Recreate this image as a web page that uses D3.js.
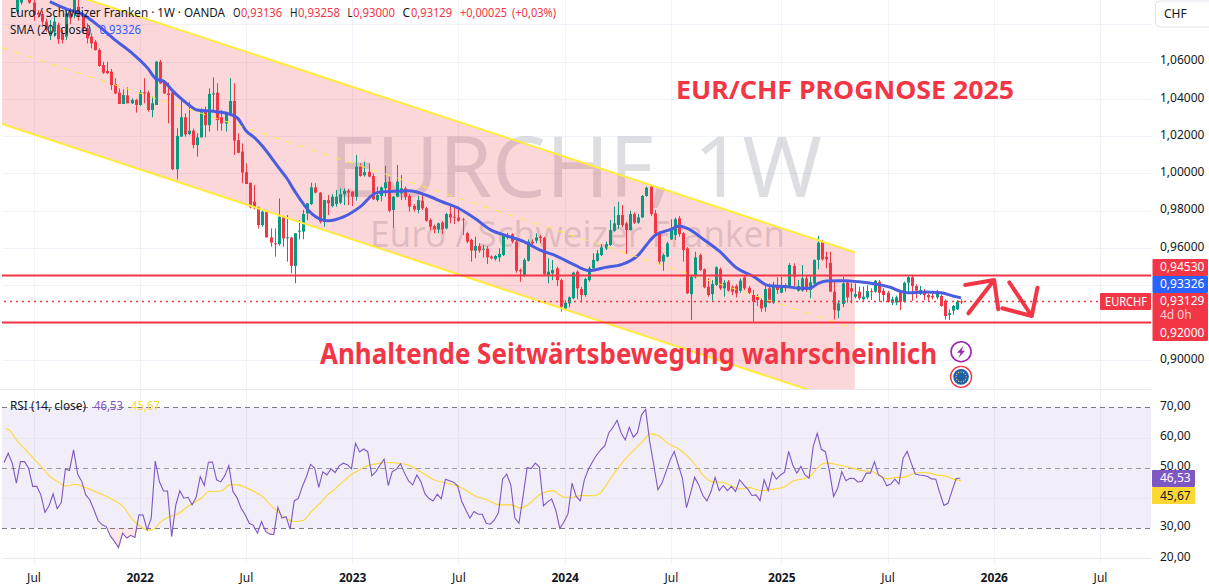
<!DOCTYPE html>
<html><head><meta charset="utf-8">
<script src="https://cdn.jsdelivr.net/npm/d3@7/dist/d3.min.js"></script>
<style>
html,body{margin:0;padding:0;background:#fff;overflow:hidden}
svg{display:block}
text{font-family:"Noto Sans","Open Sans",sans-serif}
</style></head><body><div id="chart"></div>
<script>
// ---------- data ----------
const firstWeek = Date.UTC(2021, 6, 5);
const candleStartWeek = -4;
const opens = [
1.0867,1.0916,1.0970,1.0945,1.0916,1.0862,1.0855,1.0814,1.0737,1.0760,
1.0796,1.0751,1.0733,1.0858,1.0867,1.0894,1.0840,1.0778,1.0733,1.0706,
1.0662,1.0581,1.0549,1.0545,1.0479,1.0433,1.0372,1.0418,1.0376,1.0394,
1.0367,1.0435,1.0433,1.0340,1.0367,1.0599,1.0492,1.0429,1.0433,1.0022,
1.0197,1.0301,1.0211,1.0229,1.0152,1.0193,1.0340,1.0259,1.0426,1.0433,
1.0301,1.0268,1.0322,1.0388,1.0179,1.0117,1.0007,.9950,.9849,.9818,
.9723,.9800,.9657,.9625,.9621,.9768,.9652,.9657,.9504,.9688,
.9688,.9786,.9836,.9925,.9897,.9741,.9857,.9825,.9836,.9843,
.9888,.9907,.9902,.9875,1.0036,.9990,1.0009,.9986,.9857,.9879,
.9920,.9956,.9804,.9875,.9893,.9920,.9879,.9825,.9804,.9854,
.9813,.9750,.9718,.9700,.9736,.9705,.9782,.9768,.9764,.9754,
.9679,.9643,.9586,.9611,.9593,.9596,.9554,.9541,.9550,.9562,
.9657,.9673,.9634,.9482,.9450,.9532,.9634,.9639,.9661,.9655,
.9455,.9464,.9491,.9428,.9276,.9303,.9330,.9473,.9380,.9348,
.9428,.9491,.9532,.9562,.9598,.9616,.9693,.9723,.9777,.9732,
.9696,.9782,.9736,.9764,.9879,.9929,.9786,.9682,.9527,.9554,
.9646,.9670,.9759,.9679,.9598,.9353,.9443,.9562,.9486,.9393,
.9353,.9402,.9486,.9384,.9419,.9393,.9396,.9371,.9443,.9387,
.9348,.9339,.9321,.9282,.9384,.9307,.9401,.9360,.9393,.9389,
.9503,.9371,.9371,.9437,.9375,.9410,.9536,.9634,.9553,.9521,
.9366,.9264,.9300,.9414,.9384,.9339,.9366,.9325,.9335,.9369,
.9366,.9419,.9371,.9360,.9307,.9307,.9362,.9312,.9414,.9443,
.9396,.9353,.9366,.9348,.9343,.9335,.9343,.9317,.9241,.9264,.9271,.93136];
const highs = [
1.0960,1.0950,1.0980,1.0955,1.0930,1.0875,1.0870,1.0830,1.0823,1.0840,
1.0808,1.0770,1.0876,1.0885,1.0945,1.0935,1.0860,1.0805,1.0751,1.0715,
1.0671,1.0599,1.0599,1.0560,1.0510,1.0456,1.0451,1.0462,1.0403,1.0400,
1.0447,1.0510,1.0444,1.0412,1.0603,1.0608,1.0501,1.0487,1.0440,1.0242,
1.0394,1.0322,1.0385,1.0240,1.0215,1.0349,1.0358,1.0456,1.0515,1.0483,
1.0340,1.0331,1.0510,1.0483,1.0215,1.0161,1.0054,.9950,.9938,.9822,
.9804,.9800,.9705,.9705,.9866,.9772,.9777,.9660,.9680,.9750,
.9804,.9840,.9950,.9947,.9900,.9857,.9884,.9888,.9911,.9920,
.9920,.9918,.9905,1.0099,1.0054,1.0063,1.0054,1.0000,.9929,.9929,
1.0040,.9983,.9878,1.0045,.9991,.9930,.9890,.9835,.9879,.9884,
.9820,.9759,.9725,.9736,.9745,.9789,.9836,.9822,.9822,.9762,
.9687,.9650,.9661,.9625,.9616,.9610,.9560,.9562,.9598,.9679,
.9682,.9679,.9640,.9490,.9545,.9646,.9646,.9679,.9670,.9660,
.9545,.9536,.9500,.9435,.9320,.9340,.9473,.9480,.9390,.9440,
.9500,.9571,.9589,.9621,.9634,.9750,.9822,.9848,.9830,.9740,
.9800,.9790,.9782,.9884,.9929,.9938,.9804,.9690,.9571,.9634,
.9754,.9764,.9771,.9685,.9605,.9450,.9580,.9570,.9490,.9437,
.9428,.9503,.9495,.9428,.9428,.9400,.9405,.9437,.9450,.9395,
.9375,.9353,.9330,.9401,.9410,.9419,.9443,.9446,.9410,.9518,
.9518,.9428,.9509,.9455,.9455,.9539,.9664,.9643,.9580,.9580,
.9420,.9320,.9446,.9430,.9410,.9410,.9393,.9393,.9401,.9384,
.9428,.9428,.9385,.9370,.9339,.9345,.9375,.9419,.9450,.9455,
.9405,.9396,.9380,.9355,.9360,.9375,.9350,.9325,.9271,.9294,.9321,.93258];
const lows = [
1.0855,1.0905,1.0935,1.0910,1.0819,1.0835,1.0796,1.0760,1.0715,1.0733,
1.0694,1.0697,1.0715,1.0800,1.0832,1.0819,1.0751,1.0697,1.0671,1.0658,
1.0572,1.0533,1.0533,1.0447,1.0426,1.0372,1.0372,1.0376,1.0372,1.0326,
1.0361,1.0376,1.0331,1.0301,1.0367,1.0479,1.0426,1.0268,1.0018,.9968,
1.0197,1.0197,1.0206,1.0134,1.0090,1.0193,1.0193,1.0224,1.0340,1.0229,
1.0229,1.0224,1.0313,1.0099,1.0108,.9947,.9943,.9813,.9807,.9705,
.9714,.9657,.9607,.9554,.9613,.9607,.9527,.9464,.9411,.9647,
.9647,.9750,.9830,.9893,.9732,.9714,.9777,.9818,.9822,.9836,
.9830,.9830,.9825,.9854,.9983,.9983,.9980,.9857,.9849,.9849,
.9875,.9791,.9709,.9872,.9857,.9857,.9795,.9795,.9786,.9804,
.9741,.9696,.9679,.9679,.9675,.9700,.9732,.9729,.9741,.9670,
.9625,.9527,.9545,.9575,.9550,.9514,.9539,.9532,.9527,.9557,
.9646,.9625,.9468,.9419,.9446,.9527,.9603,.9625,.9625,.9455,
.9410,.9428,.9396,.9259,.9270,.9282,.9326,.9325,.9307,.9339,
.9419,.9486,.9527,.9557,.9589,.9611,.9687,.9705,.9711,.9568,
.9693,.9729,.9730,.9762,.9875,.9771,.9675,.9509,.9478,.9550,
.9643,.9643,.9661,.9527,.9353,.9214,.9437,.9478,.9384,.9339,
.9318,.9396,.9375,.9339,.9366,.9348,.9335,.9360,.9375,.9353,
.9205,.9289,.9258,.9258,.9303,.9300,.9353,.9357,.9366,.9384,
.9393,.9366,.9366,.9366,.9330,.9401,.9485,.9532,.9491,.9366,
.9217,.9223,.9282,.9307,.9303,.9330,.9321,.9317,.9325,.9321,
.9360,.9312,.9312,.9307,.9294,.9294,.9267,.9307,.9357,.9317,
.9330,.9348,.9321,.9317,.9325,.9325,.9285,.9217,.9214,.9241,.9267,.93000];
const closes = [
1.0948,1.0939,1.0945,1.0916,1.0849,1.0851,1.0814,1.0769,1.0765,1.0814,
1.0719,1.0715,1.0858,1.0832,1.0930,1.0844,1.0778,1.0724,1.0697,1.0662,
1.0576,1.0540,1.0537,1.0474,1.0429,1.0372,1.0420,1.0376,1.0394,1.0367,
1.0435,1.0429,1.0340,1.0376,1.0599,1.0483,1.0429,1.0420,1.0022,1.0201,
1.0301,1.0209,1.0229,1.0152,1.0193,1.0340,1.0259,1.0426,1.0429,1.0286,
1.0268,1.0322,1.0388,1.0176,1.0111,1.0004,.9943,.9818,.9813,.9723,
.9795,.9657,.9629,.9621,.9768,.9652,.9657,.9504,.9679,.9693,
.9782,.9840,.9925,.9897,.9741,.9857,.9840,.9875,.9875,.9888,
.9907,.9897,.9875,1.0036,.9986,1.0007,.9983,.9861,.9884,.9925,
.9952,.9800,.9875,.9956,.9920,.9875,.9822,.9807,.9857,.9813,
.9746,.9714,.9700,.9732,.9700,.9782,.9764,.9764,.9746,.9750,
.9634,.9586,.9611,.9586,.9596,.9550,.9545,.9557,.9568,.9670,
.9670,.9634,.9478,.9475,.9536,.9634,.9625,.9657,.9654,.9459,
.9473,.9482,.9428,.9285,.9307,.9335,.9468,.9384,.9348,.9434,
.9491,.9536,.9571,.9603,.9621,.9696,.9732,.9777,.9723,.9696,
.9782,.9736,.9764,.9879,.9923,.9782,.9679,.9527,.9562,.9625,
.9705,.9754,.9675,.9589,.9357,.9446,.9550,.9482,.9389,.9348,
.9407,.9496,.9384,.9414,.9371,.9366,.9357,.9425,.9384,.9360,
.9312,.9321,.9276,.9380,.9307,.9401,.9375,.9389,.9384,.9509,
.9446,.9396,.9437,.9375,.9416,.9536,.9628,.9539,.9539,.9366,
.9267,.9303,.9410,.9335,.9366,.9353,.9330,.9339,.9369,.9366,
.9425,.9360,.9348,.9312,.9325,.9335,.9312,.9414,.9443,.9396,
.9371,.9375,.9348,.9335,.9335,.9353,.9289,.9235,.9250,.9289,.9312,.93129];

const smaWeeks = [4,8,12,16,20,24,28,30,32,34,36,38,40,44,48,50,52,54,56,60,62,64,68,72,76,80,84,88,92,96,100,104,108,112,116,120,124,128,132,136,140,144,148,150,152,156,158,160,164,168,172,176,180,184,188,190,192,194,198,202,206,210,212,214,218,222,225,227];
const smaValues = [1.0921,1.0882,1.0853,1.0790,1.0715,1.0647,1.0563,1.0506,1.0492,1.0444,1.0403,1.0367,1.0340,1.0333,1.0318,1.0295,1.0229,1.0193,1.0147,1.0031,.9974,.9902,.9786,.9746,.9768,.9822,.9897,.9904,.9907,.9884,.9848,.9813,.9759,.9696,.9664,.9634,.9589,.9557,.9514,.9478,.9496,.9512,.9562,.9616,.9666,.9700,.9718,.9705,.9646,.9580,.9494,.9450,.9398,.9393,.9384,.9384,.9410,.9423,.9425,.9419,.9407,.9387,.9369,.9360,.9364,.9360,.9343,.93326];

const rsiStartWeek = -7;
const rsiValues = [
51.7,54.8,51.5,44.9,52.0,52.0,49.8,43.8,43.8,41.0,
35.2,37.4,41.3,36.4,38.5,49.6,49.1,55.9,47.9,45.4,
41.0,39.3,36.0,32.5,31.1,30.5,27.4,25.6,23.6,28.3,
26.7,27.6,26.9,34.4,34.3,29.4,33.3,52.2,45.4,42.3,
42.3,27.2,37.5,42.4,39.9,40.2,37.7,40.2,47.1,44.1,
51.8,51.9,46.0,45.3,47.3,50.7,42.1,40.1,36.6,34.4,
31.6,30.9,28.3,32.2,28.9,28.0,27.9,36.9,33.3,33.8,
29.6,39.0,39.8,43.8,47.1,51.1,49.9,43.5,48.6,47.6,
49.6,48.4,50.6,51.5,51.0,49.6,58.1,55.2,56.2,55.3,
47.3,48.7,50.9,52.8,44.1,48.7,49.5,51.3,
48.2,45.6,44.3,47.6,45.4,41.3,39.8,39.0,41.2,39.7,
46.2,45.7,45.2,44.0,38.8,36.0,33.3,35.5,34.6,34.6,
31.6,31.3,32.7,35.2,46.2,47.9,44.3,33.3,31.6,40.5,
50.0,49.7,51.5,50.2,37.4,38.7,39.6,36.0,29.9,32.0,
34.7,44.9,40.5,39.0,46.0,49.5,52.0,54.2,55.9,57.2,
61.6,63.4,65.7,61.6,59.2,63.4,60.1,61.6,67.5,69.3,
58.6,50.9,42.7,44.9,48.7,52.6,55.4,50.9,46.5,36.8,
41.6,46.8,44.3,40.8,39.0,42.1,46.8,42.4,44.1,42.4,
43.8,42.1,46.0,44.3,42.9,40.8,41.0,39.1,46.0,42.4,
48.4,46.2,47.6,48.5,55.4,50.9,48.2,50.4,
47.6,46.5,57.0,61.4,56.1,55.3,48.7,40.5,43.2,48.7,
45.7,46.5,46.4,45.2,45.6,48.2,48.2,52.0,47.6,46.8,
44.0,44.6,46.2,44.6,53.1,55.4,51.5,47.9,47.6,47.4,
47.1,46.3,46.2,41.6,37.5,38.2,42.4,46.4,46.53];

const rsiMaWeeks = [-7,-6,-4,-2,0,2,4,6,8,10,12,16,19,22,24,26,28,29,31,33,35,38,41,43,46,48,50,52,54,56,58,60,62,64,66,68,70,72,74,76,78,80,82,84,86,90,92,95,98,102,105,108,111,114,117,119,122,124,127,130,132,134,137,139,141,143,145,147,149,151,153,155,158,160,162,164,166,169,171,173,175,178,181,184,186,188,190,192,194,197,200,203,205,207,209,211,213,215,217,219,221,223,225,227];
const rsiMaValues = [62.9,62.5,58.9,56.1,53.1,50.2,47.1,45.3,43.9,44.5,43.8,41.6,39.7,37.1,33.2,30.7,29.4,29.4,31.9,33.6,34.4,37.4,39.9,42.1,42.3,44.3,44.3,43.4,42.1,40.5,37.7,35.2,33.0,32.2,32.5,35.5,38.0,41.0,43.2,45.7,47.9,49.5,50.8,51.3,51.7,51.4,50.7,48.4,46.0,44.6,43.2,40.7,39.3,37.7,37.7,36.6,38.8,41.2,42.4,40.2,40.2,40.8,40.7,42.1,46.0,49.8,53.1,55.9,58.6,61.2,60.5,58.3,56.1,53.9,50.9,47.3,45.4,45.1,43.8,42.9,43.5,42.4,42.9,43.8,45.7,46.2,47.1,50.2,51.6,50.9,50.0,49.0,48.8,47.5,46.3,46.8,46.8,47.9,48.4,48.3,47.6,47.3,46.3,45.67];

const priceTicks = [1.08,1.06,1.04,1.02,1,0.98,0.96,0.94,0.92,0.90];
const priceLabelTicks = [1.06,1.04,1.02,1,0.98,0.96,0.90];
const rsiGridTicks = [60,40,20];
const rsiLevels = [70,50,30];
const rsiLabelTicks = [70,60,50,30,20];
const timeTicks = ["2021-07-05","2022-01-03","2022-07-04","2023-01-02","2023-07-03","2024-01-01","2024-07-01","2025-01-06","2025-07-07","2026-01-05","2026-07-06"];
const timeLabels = ["Jul","2022","Jul","2023","Jul","2024","Jul","2025","Jul","2026","Jul"];

const resistance = 0.9453, support = 0.92, lastClose = 0.93129, lastSma = 0.93326;
const channelWeeks = [-7.7, 201];
const channelUpper = [1.1083, 0.9577];
const channelLower = [1.0265, 0.8758];
const channelMiddle = [1.0674, 0.9168];
const arrowUpWeeks = [228.8,234.9,null,228,235.1,236.1];
const arrowUpPrices = [.92499,.94231,null,.94016,.94284,.92713];
const arrowDownWeeks = [238.8,244.3,null,237.1,244.3,245.7];
const arrowDownPrices = [.94161,.92354,null,.92767,.92354,.93871];

// ---------- layout ----------
const W = 1209, H = 588, L = 2, R = 1151, paneBottom = 389, rsiBottom = 563;
const red = "#f23645", green = "#089981", dark = "#131722", grid = "#f0f3fa";
const weekDate = i => new Date(firstWeek + i * 7 * 864e5);
const x = d3.scaleUtc().domain([weekDate(0), weekDate(261)]).range([33.5, 1100]);
const xw = i => x(weekDate(i));
const y = d3.scaleLinear().domain([0.90, 1.06]).range([359.9, 61.5]);
const yr = d3.scaleLinear().domain([20, 70]).range([558.3, 407.3]);
const loc = d3.formatLocale({decimal:",",thousands:".",grouping:[3],currency:["","CHF"]});
const f5 = loc.format(".5f"), f2 = loc.format(".2f");

const svg = d3.select("#chart").append("svg").attr("width", W).attr("height", H);
const defs = svg.append("defs");
defs.append("clipPath").attr("id","pricePane").append("rect").attr("x",L).attr("y",0).attr("width",R-L).attr("height",paneBottom);
defs.append("clipPath").attr("id","below30").append("rect").attr("x",L).attr("y",yr(30)).attr("width",R-L).attr("height",yr(20)-yr(30));

// grid
const g = svg.append("g");
g.selectAll(".vg").data(timeTicks).join("line").attr("x1",d=>Math.round(x(new Date(d)))+.5).attr("x2",d=>Math.round(x(new Date(d)))+.5)
 .attr("y1",0).attr("y2",rsiBottom).attr("stroke",grid);
g.selectAll(".hg").data(priceTicks).join("line").attr("x1",L).attr("x2",R).attr("y1",d=>Math.round(y(d))+.5).attr("y2",d=>Math.round(y(d))+.5).attr("stroke",grid);
g.append("line").attr("x1",0).attr("x2",R).attr("y1",paneBottom+.5).attr("y2",paneBottom+.5).attr("stroke","#e6e8ee").attr("stroke-width",1);

// watermark
const wm = svg.append("g").attr("fill","rgba(120,123,134,0.25)");
wm.append("text").attr("x",329).attr("y",197).attr("font-size",84).attr("textLength",493).attr("lengthAdjust","spacingAndGlyphs").text("EURCHF, 1W");
wm.append("text").attr("x",370).attr("y",247).attr("font-size",36).attr("textLength",415).attr("lengthAdjust","spacingAndGlyphs").text("Euro / Schweizer Franken");

// channel + marks
const pane = svg.append("g").attr("clip-path","url(#pricePane)");
const channelPts = [[0,channelUpper],[1,channelUpper],[1,channelLower],[0,channelLower]];
pane.append("polygon").attr("points",channelPts.map(([k,a])=>[xw(channelWeeks[k]),y(a[k])].join(",")).join(" ")).attr("fill","rgba(242,54,69,0.2)");

const candles = opens.map((o,k)=>({w:candleStartWeek+k,o,h:highs[k],l:lows[k],c:closes[k]}));
const cg = pane.append("g");
cg.selectAll("line").data(candles).join("line")
 .attr("x1",d=>Math.round(xw(d.w))+.5).attr("x2",d=>Math.round(xw(d.w))+.5)
 .attr("y1",d=>y(d.h)).attr("y2",d=>y(d.l))
 .attr("stroke",d=>d.c>=d.o?green:red);
cg.selectAll("rect").data(candles).join("rect")
 .attr("x",d=>Math.round(xw(d.w))-1).attr("width",3)
 .attr("y",d=>y(Math.max(d.o,d.c))).attr("height",d=>Math.max(1,Math.abs(y(d.o)-y(d.c))))
 .attr("fill",d=>d.c>=d.o?green:red);

pane.append("path").attr("d",d3.line().x((d,k)=>xw(smaWeeks[k])).y(d=>y(d)).curve(d3.curveMonotoneX)(smaValues))
 .attr("fill","none").attr("stroke","#4a5ce0").attr("stroke-width",3);

const chLine = a => d3.line().x((d,k)=>xw(channelWeeks[k])).y(d=>y(d))(a);
pane.append("path").attr("d",chLine(channelUpper)).attr("stroke","#ffeb3b").attr("stroke-width",2).attr("fill","none");
pane.append("path").attr("d",chLine(channelLower)).attr("stroke","#ffeb3b").attr("stroke-width",2).attr("fill","none");
pane.append("path").attr("d",chLine(channelMiddle)).attr("stroke","#ffeb3b").attr("stroke-width",1).attr("stroke-dasharray","6,7").attr("fill","none");

pane.selectAll(".lvl").data([resistance,support]).join("line").attr("x1",L).attr("x2",R).attr("y1",d=>y(d)).attr("y2",d=>y(d)).attr("stroke",red).attr("stroke-width",2);
svg.append("line").attr("x1",L+2).attr("x2",1100).attr("y1",y(lastClose)).attr("y2",y(lastClose)).attr("stroke",red).attr("stroke-width",1.6).attr("stroke-dasharray","2,4");

// hand-drawn arrows
const arrow = d3.line().defined(d=>d[0]!==null).x(d=>xw(d[0])).y(d=>y(d[1]));
[[arrowUpWeeks,arrowUpPrices],[arrowDownWeeks,arrowDownPrices]].forEach(([a,b])=>{
  svg.append("path").attr("d",arrow(a.map((w,k)=>[w,b[k]]))).attr("fill","none").attr("stroke",red).attr("stroke-width",4).attr("stroke-linecap","round").attr("stroke-linejoin","round");
});

// annotation text
svg.append("text").attr("x",676).attr("y",98.5).attr("font-size",25).attr("font-weight",700).attr("fill",red).attr("textLength",338).attr("lengthAdjust","spacingAndGlyphs").text("EUR/CHF PROGNOSE 2025");
svg.append("text").attr("x",320).attr("y",364).attr("font-size",28).attr("font-weight",700).attr("fill",red).attr("textLength",617).attr("lengthAdjust","spacingAndGlyphs").text("Anhaltende Seitwärtsbewegung wahrscheinlich");

// event icons
const icx = xw(227);
const i1 = svg.append("g").attr("transform",`translate(${icx},${y(0.9044)})`);
i1.append("circle").attr("r",10).attr("fill","#fff").attr("stroke","#9c27b0").attr("stroke-width",1.6);
i1.append("path").attr("d","M2.5,-6 L-4,1 L-0.5,1 L-2.5,6 L4,-1 L0.5,-1 Z").attr("fill","#9c27b0");
const i2 = svg.append("g").attr("transform",`translate(${icx},${y(0.8909)})`);
i2.append("circle").attr("r",10.5).attr("fill","#fff").attr("stroke",red).attr("stroke-width",1.4);
i2.append("circle").attr("r",7.8).attr("fill","#1f5fa8");
i2.selectAll(".star").data(d3.range(12)).join("circle").attr("r",.7).attr("fill","#ffd54f")
 .attr("cx",d=>5*Math.cos(d*Math.PI/6)).attr("cy",d=>5*Math.sin(d*Math.PI/6));

// RSI pane
svg.append("rect").attr("x",L).attr("width",R-L).attr("y",yr(70)).attr("height",yr(30)-yr(70)).attr("fill","rgba(126,87,194,0.1)");
svg.selectAll(".rg").data(rsiGridTicks).join("line").attr("x1",L).attr("x2",R).attr("y1",d=>Math.round(yr(d))+.5).attr("y2",d=>Math.round(yr(d))+.5).attr("stroke","#e8e7f0");
svg.selectAll(".rl").data(rsiLevels).join("line").attr("x1",L).attr("x2",R).attr("y1",d=>Math.round(yr(d))+.5).attr("y2",d=>Math.round(yr(d))+.5)
 .attr("stroke",d=>d===50?"#9598a1":"#787b86").attr("stroke-dasharray","5,4");
svg.append("path").attr("clip-path","url(#below30)").attr("d",d3.area().x((d,k)=>xw(rsiStartWeek+k)).y0(yr(30)).y1(d=>yr(d))(rsiValues)).attr("fill","rgba(242,54,69,0.12)");
svg.append("path").attr("d",d3.line().x((d,k)=>xw(rsiMaWeeks[k])).y(d=>yr(d)).curve(d3.curveMonotoneX)(rsiMaValues)).attr("fill","none").attr("stroke","#fdd835").attr("stroke-width",1.1);
svg.append("path").attr("d",d3.line().x((d,k)=>xw(rsiStartWeek+k)-.8).y(d=>yr(d))(rsiValues)).attr("fill","none").attr("stroke","#7e57c2").attr("stroke-width",1.1);

// axes
function cleanAxis(sel){ sel.select(".domain").remove(); sel.selectAll("line").remove(); sel.selectAll("text").attr("fill",dark).style("font-size","12px").style("font-family",'"Noto Sans",sans-serif'); }
svg.append("g").attr("transform","translate(1160,0)")
 .call(d3.axisRight(y).tickValues(priceLabelTicks).tickFormat(f5).tickSize(0).tickPadding(0)).call(cleanAxis)
 .selectAll("text").attr("y",-1.6);
svg.append("g").attr("transform","translate(1160,0)")
 .call(d3.axisRight(yr).tickValues(rsiLabelTicks).tickFormat(f2).tickSize(0).tickPadding(0)).call(cleanAxis)
 .selectAll("text").attr("y",-2);
const tickDates = timeTicks.map(d=>new Date(d));
svg.append("g").attr("transform","translate(0,570)")
 .call(d3.axisBottom(x).tickValues(tickDates).tickFormat((d,k)=>timeLabels[k]).tickSize(0).tickPadding(0)).call(cleanAxis)
 .selectAll("text").attr("font-weight",(d,k)=>timeLabels[k]==="Jul"?400:700).attr("y",3);

// legend
const leg = svg.append("g").attr("font-size",13);
function t(px,py,str,fill,len,size){ const e=leg.append("text").attr("x",px).attr("y",py).attr("fill",fill).text(str); if(len) e.attr("textLength",len).attr("lengthAdjust","spacingAndGlyphs"); if(size) e.attr("font-size",size); return e; }
t(10,16.5,"Euro / Schweizer Franken · 1W · OANDA",dark,215);
t(233,16.5,"O",dark,7.5); t(241,16.5,"0,93136",red,41);
t(290,16.5,"H",dark,7.5); t(298,16.5,"0,93258",red,42);
t(347.5,16.5,"L",dark,5); t(353,16.5,"0,93000",red,42);
t(402.5,16.5,"C",dark,7.5); t(411,16.5,"0,93129",red,41);
t(460,16.5,"+0,00025",red,47); t(512,16.5,"(+0,03%)",red,44);
t(10,33.5,"SMA (20, close)",dark,81); t(99.5,33.5,"0,93326","#2962ff",41.5);
t(10,409.5,"RSI (14, close)",dark,76); t(94,409.5,"46,53","#7e57c2",29); t(131,409.5,"45,67","#fdd835",29);

// CHF box
svg.append("rect").attr("x",1155.5).attr("y",1).attr("width",60).attr("height",26).attr("rx",4).attr("fill","#fff").attr("stroke","#e0e3eb");
svg.append("text").attr("x",1164).attr("y",18).attr("font-size",12).attr("fill",dark).text("CHF");

// price tags
const tags = svg.append("g");
function tag(px,py,w,h,fill){ tags.append("rect").attr("x",px).attr("y",py).attr("width",w).attr("height",h).attr("fill",fill).attr("rx",1); }
function tagText(px,py,s,fill,len){ const e=tags.append("text").attr("x",px).attr("y",py).attr("font-size",12).attr("fill",fill).text(s); if(len) e.attr("textLength",len).attr("lengthAdjust","spacingAndGlyphs"); }
tag(1152.5,259,55.5,17,red);
tag(1152.5,276,55.5,17,"#2962ff");
tag(1152.5,293,55.5,48,red);
tag(1100,293,51,17,red);
tagText(1160,270.5,f5(resistance),"#fff");
tagText(1160,288,f5(lastSma),"#fff");
tagText(1160,305,f5(lastClose),"#fff");
tagText(1160,319,"4d 0h","rgba(255,255,255,0.75)");
tagText(1160,336.5,f5(support),"#fff");
tagText(1105,305.5,"EURCHF","#fff",42);
tag(1152,470,43,17,"#7e57c2");
tag(1152,487,43,17,"#fdd835");
tagText(1160,482,f2(rsiValues[rsiValues.length-1]),"#fff");
tagText(1160,499.5,f2(rsiMaValues[rsiMaValues.length-1]),dark);
</script></body></html>
